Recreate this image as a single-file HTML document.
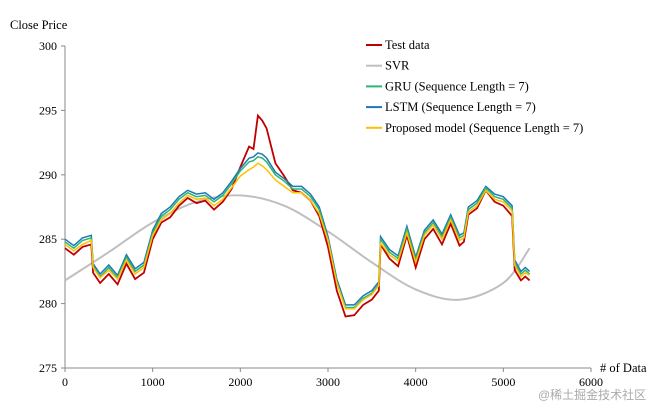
<!DOCTYPE html>
<html><head><meta charset="utf-8"><style>
body{margin:0;background:#fff;}
svg{display:block;font-family:"Liberation Serif",serif;}
</style></head><body>
<svg id="chart" width="669" height="408">
<g id="axes"></g>
<g id="series"></g>
<g id="legend"></g>
<text x="10" y="29" font-size="12.5">Close Price</text>
<text x="600" y="372" font-size="12.5"># of Data</text>
<text x="538" y="399" font-size="12" fill="#aaa" style="font-family:'Liberation Sans','Noto Sans CJK SC',sans-serif">@稀土掘金技术社区</text>
</svg>
<script>
const xTicks=[0,1000,2000,3000,4000,5000,6000];
const yTicks=[275,280,285,290,295,300];
const testX=[0,100,200,300,320,400,500,600,700,800,900,1000,1100,1200,1300,1400,1500,1600,1700,1800,1900,2000,2100,2150,2200,2250,2300,2400,2500,2600,2700,2800,2900,3000,3100,3200,3300,3400,3500,3580,3600,3700,3800,3900,4000,4100,4200,4300,4400,4500,4550,4600,4700,4800,4900,5000,5100,5130,5200,5250,5300];
const testData=[284.3,283.8,284.4,284.6,282.4,281.6,282.3,281.5,283.1,281.9,282.4,285.0,286.3,286.7,287.6,288.2,287.8,288.0,287.3,287.9,288.9,290.6,292.2,292.0,294.6,294.2,293.6,290.9,289.9,288.8,288.6,288.0,286.8,284.4,281.0,279.0,279.1,279.9,280.3,281.0,284.6,283.5,282.9,285.3,282.8,285.0,285.8,284.6,286.2,284.5,284.8,286.9,287.4,288.8,287.9,287.6,286.8,282.6,281.8,282.1,281.8];
const gruData=[284.8,284.3,284.9,285.1,282.9,282.1,282.8,282.0,283.6,282.5,283.0,285.5,286.8,287.3,288.1,288.6,288.3,288.4,287.9,288.4,289.3,290.3,291.0,291.1,291.4,291.3,291.0,290.0,289.5,288.9,288.9,288.3,287.3,285.0,281.7,279.7,279.7,280.4,280.8,281.5,285.0,284.0,283.5,285.8,283.4,285.5,286.3,285.2,286.7,285.1,285.3,287.3,287.8,289.0,288.3,288.1,287.4,283.2,282.3,282.6,282.3];
const lstmData=[285.0,284.5,285.1,285.3,283.1,282.3,283.0,282.2,283.8,282.7,283.2,285.7,287.0,287.5,288.3,288.8,288.5,288.6,288.1,288.6,289.5,290.5,291.3,291.4,291.7,291.6,291.3,290.2,289.7,289.1,289.1,288.5,287.5,285.2,281.9,279.9,279.9,280.6,281.0,281.7,285.2,284.2,283.7,286.0,283.6,285.7,286.5,285.4,286.9,285.3,285.5,287.5,288.0,289.1,288.5,288.3,287.6,283.4,282.5,282.8,282.5];
const propData=[284.6,284.1,284.6,284.9,282.8,282.0,282.6,281.9,283.4,282.3,282.8,285.3,286.5,287.0,287.8,288.4,288.1,288.2,287.6,288.1,289.0,289.9,290.4,290.6,290.9,290.7,290.4,289.6,289.1,288.6,288.6,288.0,287.0,284.9,281.6,279.6,279.6,280.3,280.7,281.4,284.7,283.8,283.3,285.5,283.2,285.3,286.1,285.0,286.5,284.9,285.1,287.1,287.6,288.8,288.1,287.9,287.2,283.0,282.1,282.4,282.2];
const svrX=[0,500,1000,1500,2000,2500,3000,3500,4000,4500,5000,5300];
const svrData=[281.8,284.0,286.3,287.9,288.4,287.6,285.6,283.2,281.1,280.3,281.6,284.3];
const legendLabels=["Test data","SVR","GRU (Sequence Length = 7)","LSTM (Sequence Length = 7)","Proposed model (Sequence Length = 7)"];
const legendColors=["#c00000","#bfbfbf","#2ab673","#1f77b4","#ffc000"];

const NS="http://www.w3.org/2000/svg";
const X0=65,X1=591,Y0=368,Y1=46;
const xs=v=>X0+(v-0)/6000*(X1-X0);
const ys=v=>Y0-(v-275)/25*(Y0-Y1);
function mk(tag,attrs,parent){const e=document.createElementNS(NS,tag);for(const k in attrs)e.setAttribute(k,attrs[k]);parent.appendChild(e);return e;}
const axes=document.getElementById('axes');
let a=mk('line',{x1:X0,y1:Y1,x2:X0,y2:Y0,stroke:'#888','stroke-width':1},axes);


a=mk('line',{x1:X0,y1:Y0,x2:X1,y2:Y0,stroke:'#888','stroke-width':1},axes);


xTicks.forEach(t=>{
  mk('line',{x1:xs(t),y1:Y0,x2:xs(t),y2:Y0+4,stroke:'#888'},axes);
  const tx=mk('text',{x:xs(t),y:Y0+18,'font-size':12,'text-anchor':'middle'},axes);
  tx.textContent=t;
  
  
});
yTicks.forEach(t=>{
  mk('line',{x1:X0-4,y1:ys(t),x2:X0,y2:ys(t),stroke:'#888'},axes);
  const tx=mk('text',{x:X0-8,y:ys(t)+4,'font-size':12,'text-anchor':'end'},axes);
  tx.textContent=t;
  
  
});
const ser=document.getElementById('series');
function poly(xv,yv){return xv.map((x,i)=>xs(x).toFixed(1)+','+ys(yv[i]).toFixed(1)).join(' ');}
function smooth(xv,yv){
  const p=xv.map((x,i)=>[xs(x),ys(yv[i])]);let d='M'+p[0][0]+','+p[0][1];
  for(let i=0;i<p.length-1;i++){const p0=p[i-1]||p[i],p1=p[i],p2=p[i+1],p3=p[i+2]||p2;
    d+=' C'+(p1[0]+(p2[0]-p0[0])/6)+','+(p1[1]+(p2[1]-p0[1])/6)+' '+(p2[0]-(p3[0]-p1[0])/6)+','+(p2[1]-(p3[1]-p1[1])/6)+' '+p2[0]+','+p2[1];}
  return d;}
let s=mk('path',{d:smooth(svrX,svrData),fill:'none',stroke:legendColors[1],'stroke-width':2},ser);


s=mk('polyline',{points:poly(testX,testData),fill:'none',stroke:legendColors[0],'stroke-width':1.8},ser);


s=mk('polyline',{points:poly(testX,lstmData),fill:'none',stroke:legendColors[3],'stroke-width':1.5},ser);


s=mk('polyline',{points:poly(testX,gruData),fill:'none',stroke:legendColors[2],'stroke-width':1.5},ser);


s=mk('polyline',{points:poly(testX,propData),fill:'none',stroke:legendColors[4],'stroke-width':1.5},ser);


const lg=document.getElementById('legend');
legendLabels.forEach((l,i)=>{
  const y=45+i*20.7;
  const g=mk('g',{},lg);
  
  
  mk('line',{x1:366,y1:y,x2:382,y2:y,stroke:legendColors[i],'stroke-width':2},g);
  const t=mk('text',{x:385,y:y+4,'font-size':12.5},g);t.textContent=l;
});
</script>
</body></html>
